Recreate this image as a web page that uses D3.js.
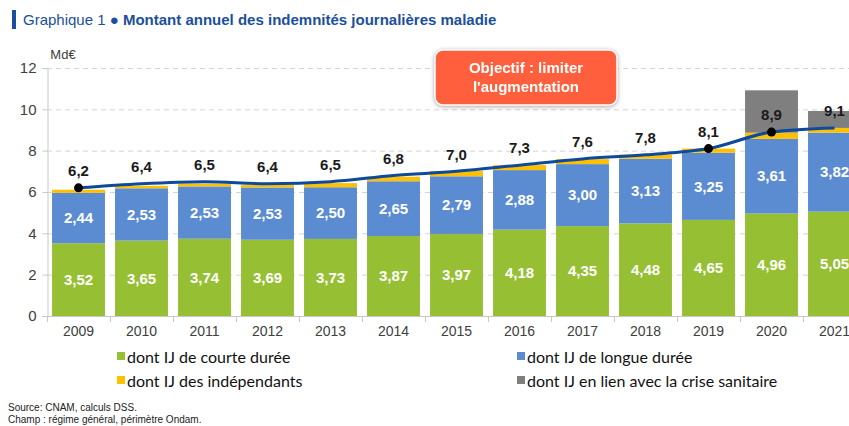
<!DOCTYPE html>
<html>
<head>
<meta charset="utf-8">
<script src="https://cdn.jsdelivr.net/npm/d3@7"></script>
<style>
  body { margin: 0; background: #fff; }
  svg { display: block; font-family: "Liberation Sans", Arial, sans-serif; }
</style>
</head>
<body>
<div id="chart"></div>
<script>
var w = 849,
	h = 426;

// data
var years = ['2009', '2010', '2011', '2012', '2013', '2014', '2015', '2016', '2017', '2018', '2019', '2020', '2021'],
	courte = [3.52, 3.65, 3.74, 3.69, 3.73, 3.87, 3.97, 4.18, 4.35, 4.48, 4.65, 4.96, 5.05],
	longue = [2.44, 2.53, 2.53, 2.53, 2.50, 2.65, 2.79, 2.88, 3.00, 3.13, 3.25, 3.61, 3.82],
	indep = [0.15, 0.12, 0.13, 0.12, 0.20, 0.22, 0.25, 0.24, 0.24, 0.20, 0.20, 0.30, 0.23],
	crise = [0, 0, 0, 0, 0, 0, 0, 0, 0, 0, 0, 2.05, 0.82],
	total = [6.2, 6.4, 6.5, 6.4, 6.5, 6.8, 7.0, 7.3, 7.6, 7.8, 8.1, 8.9, 9.1],
	dotYears = ['2009', '2019', '2020'],
	yTicks = [0, 2, 4, 6, 8, 10, 12];

var keys = ['courte', 'longue', 'indep', 'crise'],
	colors = { courte: '#96bf33', longue: '#5b8bd0', indep: '#ffc000', crise: '#7f7f7f' },
	legendLabels = {
		courte: 'dont IJ de courte durée',
		longue: 'dont IJ de longue durée',
		indep: 'dont IJ des indépendants',
		crise: 'dont IJ en lien avec la crise sanitaire'
	};

var rows = years.map(function(y, i) {
	return { year: y, courte: courte[i], longue: longue[i], indep: indep[i], crise: crise[i], total: total[i] };
});

var x = d3.scaleBand().domain(years).range([47, 866]).paddingInner(0.16).paddingOuter(0.08),
	y = d3.scaleLinear().domain([0, 12]).range([316, 68]);

var svg = d3.select('#chart').append('svg')
	.attr('width', w)
	.attr('height', h);

// title
svg.append('rect').attr('x', 12).attr('y', 10).attr('width', 4).attr('height', 19).style('fill', '#1b4f9c');
var title = svg.append('text').attr('x', 23).attr('y', 25).style('font-size', '15px').style('fill', '#1b4f9c');
title.append('tspan').text('Graphique 1 ');
title.append('tspan').style('font-weight', 'bold').text('● Montant annuel des indemnités journalières maladie');

// grid
svg.append('g').selectAll('line')
	.data(yTicks.slice(1))
	.enter().append('line')
	.attr('x1', 47).attr('x2', w)
	.attr('y1', function(d) { return y(d) + 0.5; })
	.attr('y2', function(d) { return y(d) + 0.5; })
	.style('stroke', '#d4d4d4')
	.style('stroke-dasharray', '5,4');

// y axis
var yAxis = svg.append('g')
	.attr('transform', 'translate(47.5,0)')
	.call(d3.axisLeft(y).tickValues(yTicks).tickSize(5).tickPadding(6));
yAxis.select('.domain').style('stroke', '#c8c8c8');
yAxis.selectAll('.tick line').style('stroke', '#c8c8c8');
yAxis.selectAll('text').style('font-size', '15px').style('fill', '#404040').style('font-family', 'Liberation Sans, Arial');

svg.append('text').attr('x', 63).attr('y', 59).attr('text-anchor', 'middle')
	.style('font-size', '13px').style('fill', '#404040').text('Md€');

// stacked bars
var stack = d3.stack().keys(keys)(rows);
svg.append('g').selectAll('g')
	.data(stack)
	.enter().append('g')
	.style('fill', function(d) { return colors[d.key]; })
	.selectAll('rect')
	.data(function(d) { return d; })
	.enter().append('rect')
	.attr('x', function(d) { return x(d.data.year); })
	.attr('width', x.bandwidth())
	.attr('y', function(d) { return y(d[1]); })
	.attr('height', function(d) { return y(d[0]) - y(d[1]); });

// x axis
var step = x.step();
svg.append('line').attr('x1', 47).attr('x2', w).attr('y1', 316.5).attr('y2', 316.5).style('stroke', '#c8c8c8');
svg.append('g').selectAll('line')
	.data(years)
	.enter().append('line')
	.attr('x1', function(d) { return Math.round(x(d) - step * 0.08) + 0.5; })
	.attr('x2', function(d) { return Math.round(x(d) - step * 0.08) + 0.5; })
	.attr('y1', 316).attr('y2', 322)
	.style('stroke', '#c8c8c8');
var xAxis = svg.append('g')
	.attr('transform', 'translate(0,316)')
	.call(d3.axisBottom(x).tickSize(0).tickPadding(10));
xAxis.select('.domain').remove();
xAxis.selectAll('text').style('font-size', '14px').style('fill', '#404040').style('font-family', 'Liberation Sans, Arial');

// values in bars
['courte', 'longue'].forEach(function(k, j) {
	svg.append('g').selectAll('text')
		.data(stack[j])
		.enter().append('text')
		.attr('x', function(d) { return x(d.data.year) + x.bandwidth() / 2; })
		.attr('y', function(d) { return y((d[0] + d[1]) / 2); })
		.attr('dy', '0.35em')
		.attr('text-anchor', 'middle')
		.style('fill', '#fff')
		.style('font-weight', 'bold')
		.style('font-size', '15px')
		.text(function(d) { return d3.format('.2f')(d.data[k]).replace('.', ','); });
});

// total line
var line = d3.line()
	.x(function(d) { return x(d.year) + x.bandwidth() / 2; })
	.y(function(d) { return y(d.total); })
	.curve(d3.curveMonotoneX);
svg.append('path')
	.datum(rows)
	.attr('d', line)
	.style('fill', 'none')
	.style('stroke', '#0e4a9b')
	.style('stroke-width', 3);

svg.append('g').selectAll('circle')
	.data(rows.filter(function(d) { return dotYears.indexOf(d.year) > -1; }))
	.enter().append('circle')
	.attr('cx', function(d) { return x(d.year) + x.bandwidth() / 2; })
	.attr('cy', function(d) { return y(d.total); })
	.attr('r', 4.5)
	.style('fill', '#000');

svg.append('g').selectAll('text')
	.data(rows)
	.enter().append('text')
	.attr('x', function(d) { return x(d.year) + x.bandwidth() / 2; })
	.attr('y', function(d) { return y(d.total) - 17; })
	.attr('dy', '0.35em')
	.attr('text-anchor', 'middle')
	.style('font-weight', 'bold')
	.style('font-size', '15px')
	.style('fill', '#1a1a1a')
	.text(function(d) { return d3.format('.1f')(d.total).replace('.', ','); });

// objective box
var box = svg.append('g').style('filter', 'drop-shadow(0px 1px 2px rgba(0,0,0,0.35))');
box.append('rect')
	.attr('x', 435).attr('y', 50).attr('width', 182).attr('height', 55).attr('rx', 8)
	.style('fill', '#ff5f3c').style('stroke', '#fff').style('stroke-width', 1.5);
box.append('text').attr('x', 526).attr('y', 73).attr('text-anchor', 'middle')
	.style('fill', '#fff').style('font-weight', 'bold').style('font-size', '15px').text('Objectif : limiter');
box.append('text').attr('x', 526).attr('y', 92).attr('text-anchor', 'middle')
	.style('fill', '#fff').style('font-weight', 'bold').style('font-size', '15px').text("l'augmentation");

// legend
var legPos = {
	courte: [117, 357], indep: [117, 381],
	longue: [517, 357], crise: [517, 381]
};
var leg = svg.append('g').selectAll('g')
	.data(keys)
	.enter().append('g')
	.attr('transform', function(d) { return 'translate(' + legPos[d][0] + ',' + legPos[d][1] + ')'; });
leg.append('rect').attr('x', 0).attr('y', -5).attr('width', 8).attr('height', 8)
	.style('fill', function(d) { return colors[d]; });
leg.append('text').attr('x', 10).attr('y', 0).attr('dy', '0.35em')
	.style('font-family', 'Lato, sans-serif').style('font-size', '16px').style('fill', '#111')
	.text(function(d) { return legendLabels[d]; });

// source
svg.append('text').attr('x', 8).attr('y', 411).style('font-size', '10px').style('fill', '#222')
	.text('Source: CNAM, calculs DSS.');
svg.append('text').attr('x', 8).attr('y', 423).style('font-size', '10px').style('fill', '#222')
	.text('Champ : régime général, périmètre Ondam.');
</script>
</body>
</html>
